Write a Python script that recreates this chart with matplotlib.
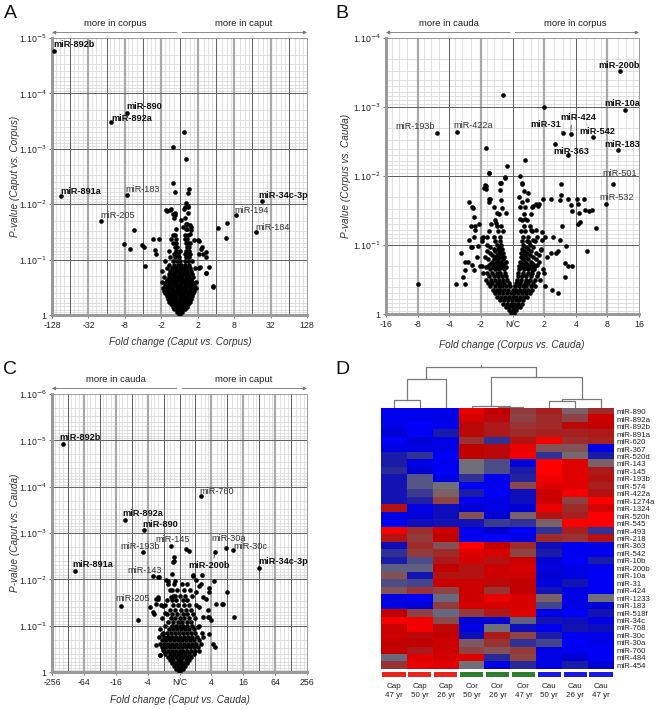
import numpy as np
import matplotlib
matplotlib.use('Agg')
import matplotlib.pyplot as plt
from matplotlib.colors import LinearSegmentedColormap

plt.rcParams['font.family'] = ['Liberation Sans', 'DejaVu Sans']

W, H = 662, 710
fig = plt.figure(figsize=(W / 100, H / 100), dpi=100)


def px_axes(l, t, r, b):
    return fig.add_axes([l / W, 1 - b / H, (r - l) / W, (b - t) / H])


# ---------------- DATA ----------------
# values: signed log2 fold change, -log10(p-value)
# Panel A: Caput vs Corpus
a_lab_names = ['miR-892b', 'miR-890', 'miR-892a', 'miR-891a', 'miR-183', 'miR-205',
               'miR-34c-3p', 'miR-194', 'miR-184']
a_lab_fc = [-6.87, -2.89, -3.76, -6.51, -2.89, -4.31, 4.53, 3.09, 4.22]
a_lab_p = [4.76, 3.65, 3.48, 2.14, 2.16, 1.70, 2.05, 1.80, 1.49]
a_lab_bold = [True, True, True, True, False, False, True, False, False]
a_fc = [0.27, -0.33, 0.36, -0.33, -0.24, 0.51, 0.44, 0.36, 0.31, 0.47, -0.69, -0.51, 2.09,
        2.6, 2.58, -2.49, -3.05, -2.73, -2.04, -1.95, -1.91, -1.45, -1.13, -1.36, 1.24,
        1.31, 1.45, 1.6, 1.45, 1.85, 1.11, 0.64, 0.55, 0.18, 0.09, -0.36, -0.45, 0.82, 1.0,
        1.09, -1.31, -0.73, -0.45, -0.36, -0.27, 0.27, 0.45, 0.55, 0.64, 1.18, 1.46, 1.09,
        1.09, 1.46, 1.86]
a_p = [3.30, 3.03, 2.82, 2.38, 2.22, 2.27, 2.20, 2.03, 1.95, 1.95, 1.88, 1.90, 1.57,
       1.66, 1.39, 1.54, 1.29, 1.20, 1.27, 1.23, 0.89, 1.38, 1.37, 1.17, 1.23,
       1.10, 1.05, 0.87, 0.76, 0.52, 0.87, 1.53, 1.47, 1.59, 1.71, 1.44, 1.38, 1.35, 1.35,
       1.34, 1.10, 1.89, 1.92, 1.83, 1.80, 1.92, 1.96, 1.62, 1.59, 1.20, 1.13, 1.11,
       0.84, 0.76, 0.50]
a_blob = [
    (0.02, [-0.05, 0.05]),
    (0.06, [-0.15, 0.0, 0.12]),
    (0.10, [-0.3, -0.12, 0.05, 0.2, 0.32]),
    (0.14, [-0.35, -0.2, -0.05, 0.1, 0.25, 0.4]),
    (0.19, [-0.48, -0.3, -0.15, 0.0, 0.15, 0.3, 0.45]),
    (0.24, [-0.55, -0.4, -0.22, -0.05, 0.1, 0.27, 0.42, 0.55]),
    (0.29, [-0.62, -0.45, -0.3, -0.12, 0.05, 0.2, 0.35, 0.5, 0.63]),
    (0.34, [-0.7, -0.52, -0.35, -0.18, 0.0, 0.15, 0.32, 0.48, 0.66]),
    (0.39, [-0.8, -0.6, -0.42, -0.25, -0.08, 0.1, 0.27, 0.45, 0.6, 0.75]),
    (0.44, [-0.85, -0.66, -0.48, -0.3, -0.12, 0.05, 0.22, 0.4, 0.57, 0.78]),
    (0.49, [-0.9, -0.7, -0.52, -0.34, -0.15, 0.02, 0.2, 0.38, 0.55, 0.72, 0.88]),
    (0.54, [-0.82, -0.63, -0.45, -0.26, -0.08, 0.1, 0.28, 0.45, 0.62, 0.8]),
    (0.59, [-0.95, -0.75, -0.55, -0.35, -0.17, 0.0, 0.18, 0.36, 0.55, 0.7, 0.92]),
    (0.64, [-0.68, -0.47, -0.28, -0.1, 0.08, 0.25, 0.42, 0.62]),
    (0.69, [-0.85, -0.55, -0.38, -0.2, -0.02, 0.15, 0.33, 0.5, 0.75]),
    (0.74, [-0.6, -0.4, -0.22, -0.05, 0.12, 0.3, 0.45, 0.7]),
    (0.79, [-0.95, -0.5, -0.3, -0.12, 0.05, 0.25, 0.42, 0.62]),
    (0.85, [-0.7, -0.42, -0.2, 0.0, 0.18, 0.35, 0.55, 0.85]),
    (0.91, [-0.55, -0.3, -0.1, 0.1, 0.3, 0.5]),
    (0.97, [-0.8, -0.35, -0.15, 0.05, 0.3, 0.45, 0.7]),
    (1.04, [-0.5, -0.25, -0.05, 0.35, 0.5]),
    (1.10, [-0.3, -0.1, 0.3, 0.45, 0.6]),
    (1.16, [-0.6, -0.2, 0.0, 0.35, 0.52]),
    (1.23, [-0.25, -0.15, 0.4, 0.5]),
    (1.30, [-0.35, -0.2, 0.35, 0.45, 0.55]),
    (1.38, [-0.2, 0.32, 0.4]),
    (1.45, [-0.25, 0.3, 0.45]),
    (1.55, [-0.18, 0.4, 0.33]),
    (1.65, [0.35, 0.42]),
    (1.75, [-0.3, 0.3]),
    (1.85, [-0.22, 0.45]),
]

# Panel B: Corpus vs Cauda
b_lab_names = ['miR-200b', 'miR-10a', 'miR-424', 'miR-31', 'miR-542', 'miR-183', 'miR-363',
               'miR-501', 'miR-532', 'miR-193b', 'miR-422a']
b_lab_fc = [3.41, 3.57, 1.84, 1.61, 2.53, 3.33, 1.75, 3.17, 2.95, -2.39, -1.74]
b_lab_p = [3.52, 2.95, 2.61, 2.63, 2.56, 2.38, 2.30, 1.89, 1.60, 2.63, 2.64]
b_lab_bold = [True, True, True, True, True, True, True, False, False, False, False]
b_fc = [-0.29, 0.99, 1.35, -0.84, 0.41, -0.17, -0.74, -0.24, -0.37, 0.23, 0.31, -0.85, -0.85,
        -1.39, -1.27, -0.75, -0.73, 1.52, 1.53, 1.51, 1.75, 2.03, 2.25, 2.08, 2.3, 2.1, 2.42,
        2.5, 2.63, 2.35, 2.14, 2.06, 1.89, 1.85, 1.23, 0.95, 0.66, 0.84, 1.29, 1.45, 1.66,
        1.77, 1.39, 1.56, 1.51, 1.7, 1.23, 1.03, 0.66, -1.25, -1.22, -1.2, -1.39, -1.22, -1.49,
        -1.51, -1.8, -1.62, -1.32, -0.93, -1.09, -1.13, -1.04, -1.17, -1.31, -1.07, -1.28,
        -1.28, -1.23, -1.49, -0.95, -0.8, -0.67, -0.51, -0.91, -0.86, -0.75, -0.72, -0.38,
        -0.38, -0.24, -0.49, -0.33, -0.22, 0.29, 0.36, 0.49, 0.2, 0.31, 0.25, 0.62, 0.73,
        0.8, 0.25, 0.41, 0.57, 0.73, 0.94, 0.52, 0.78, 0.94, 0.89, 1.1, 0.78, 0.62, 0.99,
        -3.0, -1.57, -1.41, 1.03, 1.24, 1.66, 1.87, 1.45]
b_p = [3.17, 3.0, 2.47, 2.40, 2.23, 2.14, 2.05, 1.97, 1.90, 2.0, 1.90, 1.86, 1.81,
       1.63, 1.55, 1.67, 1.63, 1.88, 1.72, 1.65, 1.66, 1.66, 1.66, 1.59, 1.51, 1.47, 1.50,
       1.51, 1.25, 0.92, 1.34, 1.31, 1.50, 1.58, 1.67, 1.67, 1.57, 1.60, 1.11, 0.92, 0.74,
       0.69, 0.88, 1.28, 1.07, 0.98, 0.88, 1.12, 1.07, 1.54, 1.41, 1.22, 1.07, 1.12, 0.76,
       0.64, 0.43, 0.88, 0.97, 1.11, 0.98, 0.83, 0.69, 1.27, 1.27, 1.31, 0.97,
       0.71, 0.64, 0.44, 1.10, 1.12, 1.31, 1.32, 1.82, 1.87, 2.04, 1.66, 1.9,
       1.79, 1.98, 1.47, 1.53, 1.46, 1.89, 1.78, 1.75, 1.70, 1.63, 1.55, 1.55, 1.59,
       1.57, 1.38, 1.38, 1.22, 1.22, 1.19, 1.05, 1.11, 1.07, 0.93, 0.83, 0.71, 0.64, 0.59,
       0.44, 0.54, 0.75, 0.40, 0.35, 0.54, 0.69, 0.30]
b_blob = [
    (0.02, [-0.04, 0.04]),
    (0.06, [-0.12, 0.0, 0.1]),
    (0.10, [-0.22, -0.1, 0.02, 0.14, 0.24]),
    (0.15, [-0.3, -0.18, -0.06, 0.06, 0.18, 0.3]),
    (0.20, [-0.4, -0.28, -0.15, -0.03, 0.1, 0.22, 0.34]),
    (0.25, [-0.48, -0.36, -0.24, -0.12, 0.0, 0.12, 0.24, 0.36, 0.46]),
    (0.30, [-0.55, -0.42, -0.3, -0.18, -0.06, 0.06, 0.18, 0.3, 0.42, 0.55]),
    (0.35, [-0.62, -0.5, -0.38, -0.26, -0.14, 0.0, 0.12, 0.24, 0.36, 0.48, 0.62]),
    (0.40, [-0.7, -0.56, -0.44, -0.32, -0.2, -0.08, 0.08, 0.2, 0.32, 0.44, 0.58, 0.72]),
    (0.45, [-0.78, -0.64, -0.5, -0.38, -0.26, -0.12, 0.1, 0.24, 0.38, 0.5, 0.64]),
    (0.50, [-0.85, -0.68, -0.55, -0.42, -0.3, -0.16, 0.14, 0.28, 0.42, 0.56, 0.7, 0.88]),
    (0.55, [-0.74, -0.6, -0.46, -0.34, -0.2, 0.16, 0.3, 0.44, 0.6, 0.76]),
    (0.60, [-0.92, -0.8, -0.64, -0.5, -0.38, -0.24, 0.18, 0.32, 0.48, 0.62, 0.82]),
    (0.65, [-0.7, -0.56, -0.42, -0.28, 0.2, 0.36, 0.5, 0.68, 0.95]),
    (0.68, [-0.84, -0.63, -0.5, -0.36, -0.22, 0.27, 0.43, 0.6]),
    (0.70, [-0.98, -0.78, -0.6, -0.46, -0.32, 0.22, 0.38, 0.55, 0.72]),
    (0.73, [-0.72, -0.56, -0.42, -0.28, 0.3, 0.47, 0.66]),
    (0.76, [-0.66, -0.5, -0.36, -0.22, 0.24, 0.4, 0.6, 0.85]),
    (0.79, [-0.78, -0.6, -0.45, -0.3, 0.33, 0.5, 0.75]),
    (0.82, [-0.88, -0.55, -0.4, -0.26, 0.26, 0.42, 0.64]),
    (0.85, [-0.64, -0.5, -0.35, 0.35, 0.55, 0.85]),
    (0.88, [-0.7, -0.44, -0.3, 0.28, 0.46, 0.75]),
    (0.91, [-0.8, -0.55, -0.38, 0.37, 0.6]),
    (0.94, [-0.6, -0.46, -0.32, 0.3, 0.5, 0.9]),
    (0.97, [-0.7, -0.4, 0.42, 0.66]),
    (1.00, [-0.8, -0.5, -0.35, 0.32, 0.55]),
    (1.06, [-0.95, -0.55, -0.38, 0.3, 0.45, 0.7]),
    (1.12, [-0.6, -0.4, 0.34, 0.5]),
    (1.20, [-0.75, -0.45, -0.3, 0.28, 0.4, 0.62]),
    (1.28, [-0.5, -0.35, 0.36, 0.55]),
    (1.36, [-0.55, 0.3, 0.45]),
    (1.45, [-0.42, 0.35, 0.6]),
    (1.55, [-0.6, 0.4]),
    (1.65, [-0.35, 0.45]),
]

# Panel C: Caput vs Cauda
c_lab_names = ['miR-892b', 'miR-892a', 'miR-890', 'miR-193b', 'miR-145', 'miR-143', 'miR-891a',
               'miR-205', 'miR-760', 'miR-30a', 'miR-30c', 'miR-200b', 'miR-34c-3p']
c_lab_fc = [-7.32, -3.45, -2.25, -2.29, -0.56, -1.66, -6.57, -3.64, 1.35, 2.91, 3.35, 2.25, 5.01]
c_lab_p = [4.92, 3.29, 3.07, 2.58, 2.72, 2.07, 2.17, 1.43, 3.80, 2.68, 2.63, 2.58, 2.25]
c_lab_bold = [True, True, True, False, False, False, True, False, False, False, False, True, True]
c_fc = [0.42, 0.58, -0.37, -0.37, -1.29, -0.73, -0.27, -0.44, 0.87, 1.41, 1.04, 1.21, 2.18,
        1.83, 2.97, 2.66, 2.29, 3.45, 2.08, -2.6, -1.62, -1.35, -1.35, -1.46, -1.87, -1.04,
        -0.89, -0.77, -0.52, 1.46, 1.66, 1.77, 1.46, 1.87, 1.25, 1.46, 1.19, 1.83, -1.25,
        -1.46, -1.08, -0.73, -0.42, -0.46, 0.83, -0.83, -0.73, -1.35, -1.5, -1.14, -1.66,
        -0.42, 1.04, 1.35, 1.87, 2.7, 1.77, 1.97, 2.25, -1.2, -1.04]
c_p = [2.65, 2.62, 2.48, 2.39, 2.04, 1.96, 1.96, 1.76, 2.08, 2.1, 1.99, 1.85, 1.97,
       1.82, 1.73, 1.46, 1.46, 1.19, 0.61, 1.12, 1.26, 1.62, 1.58, 1.47, 1.40, 1.42,
       1.27, 1.55, 1.62, 1.62, 1.58, 1.33, 1.19, 1.19, 1.40, 0.76, 0.97, 0.83, 0.37,
       0.58, 0.83, 0.76, 2.37, 2.12, 2.09, 1.98, 1.91, 2.05, 1.58, 1.44, 1.29,
       1.65, 1.73, 1.91, 1.73, 1.47, 1.19, 1.12, 0.54, 0.36, 0.47]
c_blob = [
    (0.02, [-0.05, 0.05]),
    (0.07, [-0.2, 0.0, 0.2]),
    (0.13, [-0.35, -0.12, 0.1, 0.32]),
    (0.19, [-0.5, -0.25, 0.0, 0.25, 0.48]),
    (0.25, [-0.62, -0.38, -0.12, 0.12, 0.38, 0.62]),
    (0.32, [-0.75, -0.5, -0.25, 0.0, 0.25, 0.5, 0.75]),
    (0.39, [-0.9, -0.62, -0.36, -0.12, 0.12, 0.36, 0.62, 0.88]),
    (0.46, [-1.0, -0.75, -0.5, -0.25, 0.0, 0.25, 0.5, 0.75, 1.0, 1.25]),
    (0.53, [-1.12, -0.85, -0.6, -0.35, -0.1, 0.15, 0.4, 0.65, 0.9, 1.15]),
    (0.60, [-1.25, -0.98, -0.72, -0.46, -0.2, 0.05, 0.3, 0.55, 0.8, 1.05, 1.35]),
    (0.68, [-1.1, -0.85, -0.6, -0.35, -0.1, 0.15, 0.4, 0.65, 0.92, 1.2]),
    (0.76, [-1.3, -0.95, -0.7, -0.45, -0.2, 0.05, 0.3, 0.55, 0.8, 1.1]),
    (0.84, [-1.05, -0.8, -0.55, -0.3, -0.05, 0.2, 0.45, 0.72, 1.0, 1.4]),
    (0.92, [-1.2, -0.65, -0.4, -0.15, 0.1, 0.35, 0.6, 0.9]),
    (1.00, [-0.9, -0.5, -0.25, 0.0, 0.25, 0.5, 0.8, 1.2]),
    (1.08, [-0.7, -0.4, -0.1, 0.15, 0.45, 0.75]),
    (1.16, [-1.1, -0.55, -0.3, 0.05, 0.3, 0.6, 1.0]),
    (1.25, [-0.8, -0.45, -0.15, 0.2, 0.5, 0.85]),
    (1.34, [-0.6, -0.3, 0.1, 0.4, 0.7]),
    (1.44, [-0.9, -0.4, -0.1, 0.3, 0.6, 1.05]),
    (1.55, [-0.5, -0.2, 0.2, 0.5]),
    (1.65, [-0.3, 0.05, 0.35, 0.8]),
    (1.78, [-0.6, -0.15, 0.3, 0.65]),
    (1.90, [-0.35, 0.15, 0.5]),
]

# Panel D: heatmap
hm_rows = ['miR-890', 'miR-892a', 'miR-892b', 'miR-891a', 'miR-620', 'miR-367', 'miR-520d',
           'miR-143', 'miR-145', 'miR-193b', 'miR-574', 'miR-422a', 'miR-1274a', 'miR-1324',
           'miR-520h', 'miR-545', 'miR-493', 'miR-218', 'miR-363', 'miR-542', 'miR-10b',
           'miR-200b', 'miR-10a', 'miR-31', 'miR-424', 'miR-1233', 'miR-183', 'miR-518f',
           'miR-34c', 'miR-768', 'miR-30c', 'miR-30a', 'miR-760', 'miR-484', 'miR-454']
hm_groups = ['Cap', 'Cap', 'Cap', 'Cor', 'Cor', 'Cor', 'Cau', 'Cau', 'Cau']
hm_ages = ['47 yr', '50 yr', '26 yr', '50 yr', '26 yr', '47 yr', '50 yr', '26 yr', '47 yr']
hm_values = [
    [-0.9, -0.9, -0.9, 0.9, 0.7, 0.35, 0.5, 0.1, 0.45],
    [-0.9, -0.9, -0.85, 0.8, 0.65, 0.3, 0.45, 0.3, 0.75],
    [-0.85, -1.0, -0.9, 0.65, 0.55, 0.4, 0.45, 0.65, 0.7],
    [-0.75, -0.95, -0.5, 0.65, 0.55, 0.45, 0.5, 0.5, 0.55],
    [-0.95, -0.75, -0.85, 0.4, -0.35, 0.6, 0.95, 0.45, 0.5],
    [-0.85, -0.85, -0.85, 0.7, 0.65, 0.9, 0.2, 0.2, -0.85],
    [-0.5, -0.35, -0.95, 0.7, 0.65, 0.95, -0.35, 0.05, -0.5],
    [-0.5, -0.85, -0.9, 0.0, -0.2, -0.8, 1.0, 0.85, 0.1],
    [-0.4, -0.75, -0.95, 0.0, -0.2, -0.5, 1.0, 0.85, 0.55],
    [-0.55, -0.15, -0.85, -0.35, -0.9, -0.45, 0.95, 0.85, 0.6],
    [-0.55, -0.15, 0.0, -0.95, -0.9, 0.25, 0.85, 0.85, 0.5],
    [-0.55, -0.3, 0.1, -0.5, -0.95, -0.6, 0.75, 0.95, 0.6],
    [-0.55, -0.45, 0.3, -0.9, -0.85, -0.6, 0.75, 0.3, 1.0],
    [0.6, -0.85, -0.6, -0.75, -0.85, -0.75, 0.9, 0.45, 0.8],
    [-0.85, -0.8, -0.6, 0.2, -0.75, 0.1, 0.6, 0.5, 1.0],
    [-0.9, -0.6, -0.55, -0.55, -0.3, -0.35, 0.1, 1.0, 1.0],
    [0.95, 0.45, 0.75, -0.9, -0.7, -0.95, -0.35, 0.5, -0.35],
    [0.6, 0.35, 0.7, -0.9, -1.0, -0.85, 0.45, 0.4, 0.6],
    [-0.6, 0.45, 0.2, 1.0, 0.7, 0.45, -0.6, -0.9, -0.85],
    [-0.35, 0.35, 0.45, 0.85, 0.8, 0.3, -0.5, -0.9, -0.9],
    [-0.5, -0.2, 0.55, 0.8, 0.6, 0.75, -0.75, -0.95, -0.5],
    [-0.1, -0.1, 0.7, 0.6, 0.75, 0.8, -0.8, -0.85, -0.9],
    [0.2, -0.55, 0.6, 0.6, 0.75, 0.75, -0.75, -0.85, -0.95],
    [-0.2, -0.25, 0.75, 0.75, 0.65, 0.7, -0.8, -0.55, -0.95],
    [0.2, 0.4, 0.3, 0.75, 0.4, 0.7, -0.55, -0.85, -0.95],
    [-0.85, -0.95, -0.05, 0.75, 0.9, 0.8, 0.1, -0.85, 0.0],
    [-0.85, -0.75, 0.35, 0.8, 0.8, 0.8, -0.25, -0.85, -0.75],
    [0.7, 0.3, -0.05, 0.35, 0.55, 0.85, -0.85, -0.95, -0.55],
    [0.95, 0.95, 0.25, -0.75, -0.75, -0.1, -0.55, -0.6, -0.85],
    [0.75, 0.95, 0.65, -0.85, 0.0, -0.6, -0.9, -0.55, -0.6],
    [0.75, 0.65, 0.7, -0.6, 0.55, 0.3, -0.5, -0.9, -0.85],
    [0.7, 0.7, 0.75, 0.15, 0.4, -0.35, -0.25, -0.95, -0.85],
    [0.7, 0.55, 0.75, 0.3, 0.2, 0.35, -0.85, -0.9, -0.95],
    [-0.05, 0.85, 0.8, 0.85, -0.4, 0.3, -0.85, -0.75, -0.95],
    [0.4, 0.9, 0.85, 0.0, -0.85, -0.4, -0.85, -0.5, -0.75],
]
# dendrogram merges: (child_a, child_b, height); leaves 0..8, new nodes from 9
dendro_merges = [(0, 1, 0.19), (9, 2, 0.72), (4, 5, 0.03), (3, 11, 0.06),
                 (6, 7, 0.17), (8, 13, 0.23), (12, 14, 0.76), (10, 15, 1.0)]

# ---------------- STYLE / LAYOUT ----------------
LAB_OFF_A = {'miR-892b': (-1, 7, 'left'), 'miR-890': (0, 6, 'left'), 'miR-892a': (0, 4, 'left'),
             'miR-891a': (-1, 5, 'left'), 'miR-183': (-1, 6, 'left'), 'miR-205': (-1, 5, 'left'),
             'miR-34c-3p': (-4, 6, 'left'), 'miR-194': (-1, 5, 'left'), 'miR-184': (-1, 5, 'left')}
LAB_OFF_B = {'miR-200b': (19, 6, 'right'), 'miR-10a': (15, 7, 'right'), 'miR-424': (-10, 16, 'left'),
             'miR-31': (-2, 8, 'right'), 'miR-542': (-13, 6, 'left'), 'miR-183': (-13, 5, 'left'),
             'miR-363': (-14, 4, 'left'), 'miR-501': (-10, 10, 'left'), 'miR-532': (-6, 6, 'left'),
             'miR-193b': (-2, 6, 'right'), 'miR-422a': (-4, 6, 'left')}
LAB_OFF_C = {'miR-892b': (-3, 7, 'left'), 'miR-892a': (-2, 6, 'left'), 'miR-890': (-1, 5, 'left'),
             'miR-193b': (17, 6, 'right'), 'miR-145': (-15, 6, 'left'), 'miR-143': (9, 6, 'right'),
             'miR-891a': (-2, 7, 'left'), 'miR-205': (-6, 7, 'left'), 'miR-760': (-2, 4, 'left'),
             'miR-30a': (-14, 9, 'left'), 'miR-30c': (1, 4, 'left'), 'miR-200b': (-27, -13, 'left'),
             'miR-34c-3p': (-1, 6, 'left')}
LEADERS = {('B', 'miR-424'): (0.3, 0.0), ('B', 'miR-31'): (0.75, 0.0), ('C', 'miR-200b'): (0.6, 1.0)}

TXT = '#222222'
GRID_DARK = '#5e5e5e'
GRID_MID = '#a9a9a9'
GRID_LIGHT = '#dcdcdc'
MS = 11


def fc_text(k, center):
    if k == 0:
        return center
    return ('-' if k < 0 else '') + str(2 ** abs(k))


def volcano(ax, panel, xmax, ymax, xticks, center, thick, left_txt, right_txt,
            fc, p, blob, names, lfc, lp, bold, offs):
    ax.set_xlim(-xmax, xmax)
    ax.set_ylim(0, ymax)
    # grid lines
    fr = np.log2([1.25, 1.5, 1.75])
    for k in range(-xmax, xmax):
        for f in fr:
            ax.axvline(k + f if k >= 0 else k + 1 - f, color=GRID_LIGHT, lw=0.6, zorder=0)
    for d in range(ymax):
        for m in range(2, 10):
            ax.axhline(d + 1 - np.log10(m), color=GRID_LIGHT, lw=0.6, zorder=0)
    for k in range(-xmax + 1, xmax):
        if k in thick:
            ax.axvline(k, color=GRID_MID, lw=1.6, zorder=0.5)
        else:
            ax.axvline(k, color=GRID_DARK, lw=0.7, zorder=0.6)
    for d in range(1, ymax):
        ax.axhline(d, color=GRID_DARK, lw=0.7, zorder=0.6)
    # points
    bx = [x for y, xs in blob for x in xs]
    by = [y for y, xs in blob for x in xs]
    ax.scatter(bx, by, s=MS, c='black', linewidths=0, zorder=3)
    ax.scatter(fc, p, s=MS, c='black', linewidths=0, zorder=3)
    ax.scatter(lfc, lp, s=MS, c='black', linewidths=0, zorder=3)
    for n, x, y, b in zip(names, lfc, lp, bold):
        dx, dy, ha = offs[n]
        kw = {}
        if (panel, n) in LEADERS:
            kw['arrowprops'] = dict(arrowstyle='-', lw=0.6, color='#333333', shrinkA=0, shrinkB=2,
                                    relpos=LEADERS[(panel, n)])
        ax.annotate(n, xy=(x, y), xytext=(dx, dy), textcoords='offset pixels', ha=ha,
                    va='center', fontsize=6.6, fontweight='bold' if b else 'normal',
                    color='#111111' if b else '#333333', zorder=4, **kw)
    # ticks
    ax.set_xticks(xticks)
    ax.set_xticklabels([fc_text(k, center) for k in xticks], fontsize=6.3, color=TXT)
    ax.set_yticks(range(ymax + 1))
    ax.set_yticklabels(['1'] + [r'1.10$^{-%d}$' % d for d in range(1, ymax + 1)],
                       fontsize=6.3, color=TXT)
    ax.tick_params(length=2, width=0.6, color='#666666', pad=2)
    for s in ['top', 'right']:
        ax.spines[s].set_color('#9a9a9a')
        ax.spines[s].set_linewidth(0.7)
    for s in ['left', 'bottom']:
        ax.spines[s].set_color('#9a9a9a')
        ax.spines[s].set_linewidth(2.2)
    ax.set_axisbelow(True)
    # header arrows
    ax.annotate('', xy=(0.0, 1.02), xytext=(0.49, 1.02), xycoords='axes fraction',
                arrowprops=dict(arrowstyle='-|>', lw=0.6, color='#777777', mutation_scale=5,
                                shrinkA=0, shrinkB=0))
    ax.annotate('', xy=(1.0, 1.02), xytext=(0.51, 1.02), xycoords='axes fraction',
                arrowprops=dict(arrowstyle='-|>', lw=0.6, color='#777777', mutation_scale=5,
                                shrinkA=0, shrinkB=0))
    ax.text(0.25, 1.035, left_txt, transform=ax.transAxes, ha='center', va='bottom',
            fontsize=6.8, color=TXT)
    ax.text(0.75, 1.035, right_txt, transform=ax.transAxes, ha='center', va='bottom',
            fontsize=6.8, color=TXT)


def ftext(x, y, s, **kw):
    fig.text(x / W, 1 - y / H, s, **kw)


# ---- Panel A
axA = px_axes(52, 38, 307, 315)
volcano(axA, 'A', 7, 5, [-7, -5, -3, -1, 1, 3, 5, 7], '', {-7, -5, -3, -1, 1, 3, 5, 7},
        'more in corpus', 'more in caput', a_fc, a_p, a_blob,
        a_lab_names, a_lab_fc, a_lab_p, a_lab_bold, LAB_OFF_A)
# ---- Panel B
axB = px_axes(386, 38, 639, 314)
volcano(axB, 'B', 4, 4, [-4, -3, -2, -1, 0, 1, 2, 3, 4], 'N/C', {-3, -1, 1, 3},
        'more in cauda', 'more in corpus', b_fc, b_p, b_blob,
        b_lab_names, b_lab_fc, b_lab_p, b_lab_bold, LAB_OFF_B)
# ---- Panel C
axC = px_axes(52, 394, 307, 672)
volcano(axC, 'C', 8, 6, [-8, -6, -4, -2, 0, 2, 4, 6, 8], 'N/C', {-6, -4, -2, 2, 4, 6},
        'more in cauda', 'more in caput', c_fc, c_p, c_blob,
        c_lab_names, c_lab_fc, c_lab_p, c_lab_bold, LAB_OFF_C)

# axis titles
ftext(15, 176, 'P-value (Caput vs. Corpus)', rotation=90, ha='center', va='center',
      fontsize=7.2, style='italic', color='#333333')
ftext(180, 342, 'Fold change (Caput vs. Corpus)', ha='center', va='center',
      fontsize=7.2, style='italic', color='#333333')
ftext(346, 176, 'P-value (Corpus vs. Cauda)', rotation=90, ha='center', va='center',
      fontsize=7.2, style='italic', color='#333333')
ftext(512, 345, 'Fold change (Corpus vs. Cauda)', ha='center', va='center',
      fontsize=7.2, style='italic', color='#333333')
ftext(15, 533, 'P-value (Caput vs. Cauda)', rotation=90, ha='center', va='center',
      fontsize=7.2, style='italic', color='#333333')
ftext(180, 700, 'Fold change (Caput vs. Cauda)', ha='center', va='center',
      fontsize=7.2, style='italic', color='#333333')

# panel letters
for lt, x, y in [('A', 4, 14), ('B', 335, 14), ('C', 3, 369), ('D', 335, 369)]:
    ftext(x, y, lt, fontsize=14, ha='left', va='center', color='#111111')

# ---- Panel D heatmap
cmap = LinearSegmentedColormap.from_list('bgr', [
    (0.0, (0.0, 0.0, 1.0)),
    (0.15, (0.0, 0.0, 0.80)),
    (0.3, (0.16, 0.16, 0.60)),
    (0.5, (0.44, 0.44, 0.48)),
    (0.7, (0.60, 0.20, 0.20)),
    (0.85, (0.76, 0.0, 0.0)),
    (1.0, (1.0, 0.0, 0.0))])
axH = px_axes(381, 408, 614, 669)
axH.imshow(np.array(hm_values), cmap=cmap, vmin=-1, vmax=1, aspect='auto',
           interpolation='nearest')
axH.set_xticks([])
axH.yaxis.tick_right()
axH.set_yticks(range(len(hm_rows)))
axH.set_yticklabels(hm_rows, fontsize=5.6, color=TXT)
axH.tick_params(axis='y', length=0, pad=2)
for s in axH.spines.values():
    s.set_visible(False)

# group colour bar
grp_col = {'Cap': '#e8251c', 'Cor': '#2f7d2f', 'Cau': '#1a1ae6'}
axG = px_axes(381, 672, 614, 677)
for i, g in enumerate(hm_groups):
    axG.bar(i, 1, width=0.9, color=grp_col[g])
axG.set_xlim(-0.5, len(hm_groups) - 0.5)
axG.set_ylim(0, 1)
axG.set_yticks([])
axG.set_xticks(range(len(hm_groups)))
axG.set_xticklabels([f'{g}\n{a}' for g, a in zip(hm_groups, hm_ages)], fontsize=5.8,
                    color=TXT, linespacing=1.4)
axG.tick_params(axis='x', length=0, pad=4)
for s in axG.spines.values():
    s.set_visible(False)

# dendrogram
axD = px_axes(381, 365, 614, 408)
pos = {i: float(i) for i in range(9)}
hgt = {i: 0.0 for i in range(9)}
node = 9
for a, b, h in dendro_merges:
    xa, xb = pos[a], pos[b]
    axD.plot([xa, xa, xb, xb], [hgt[a], h, h, hgt[b]], color='#7a7a7a', lw=0.9)
    pos[node] = (xa + xb) / 2
    hgt[node] = h
    node += 1
axD.plot([pos[node - 1], pos[node - 1]], [1.0, 1.04], color='#7a7a7a', lw=0.9)
axD.set_xlim(-0.5, 8.5)
axD.set_ylim(0, 1.05)
axD.axis('off')

fig.savefig('out.png', dpi=100)
